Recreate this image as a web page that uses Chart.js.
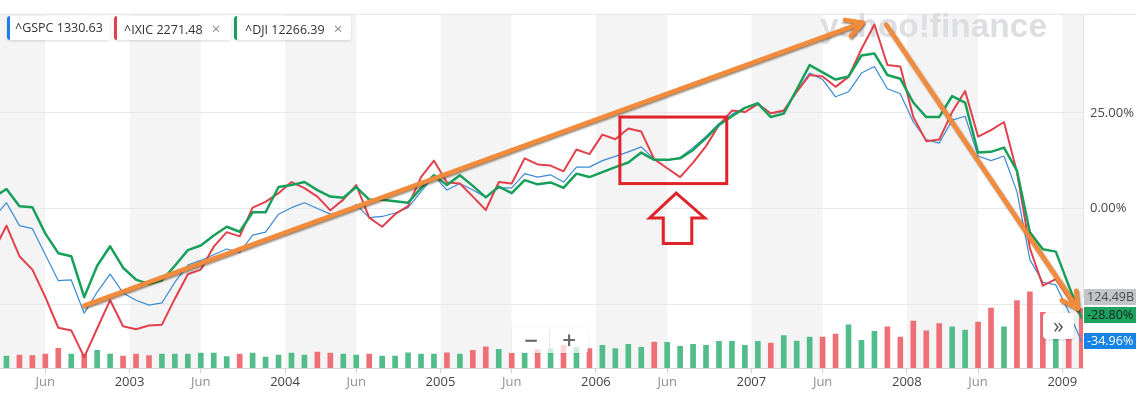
<!DOCTYPE html>
<html>
<head>
<meta charset="utf-8">
<script src="https://cdn.jsdelivr.net/npm/chart.js@4/dist/chart.umd.min.js"></script>
<style>
  html, body { margin: 0; padding: 0; background: #fff; }
  #wrap { position: relative; width: 1136px; height: 395px; font-family: 'Open Sans', sans-serif; overflow: hidden; }
  #wrap canvas { position: absolute; left: 0; top: 0; }
  .chip { position: absolute; top: 16px; height: 24px; line-height: 24px; background: #fff; border-radius: 3px;
          box-shadow: 0 1px 3px rgba(0,0,0,0.15); font-size: 12.5px; color: #333; white-space: nowrap; box-sizing: border-box; }
  .chip .bar { position: absolute; left: 0; top: 0; bottom: 0; width: 3px; border-radius: 3px 0 0 3px; }
  .chip .x { color: #8a8a8a; font-size: 15px; margin-left: 9px; }
  .badge { position: absolute; left: 1084px; width: 52px; height: 16px; line-height: 16px; font-size: 12.5px;
           padding-left: 3px; box-sizing: border-box; white-space: nowrap; overflow: hidden; }
  .zoom { position: absolute; left: 512px; top: 327px; width: 76px; height: 26px; background: rgba(255,255,255,0.72);
          border-radius: 3px; box-shadow: 0 0 2px rgba(0,0,0,0.12); color: #666; font-size: 24px; font-weight: 600; }
  .zoom span { position: absolute; top: -4px; width: 38px; text-align: center; }
  .zoom i { position: absolute; left: 37px; top: 3px; bottom: 3px; width: 1px; background: #e6e6e6; }
  .more { position: absolute; left: 1043px; top: 313px; width: 31px; height: 26px; background: #fff; border-radius: 4px;
          box-shadow: 0 1px 3px rgba(0,0,0,0.18); color: #555; font-size: 21px; line-height: 24px; text-align: center; }
</style>
</head>
<body>
<div id="wrap">
  <canvas id="stockChart"></canvas>
  <div class="chip" style="left:7px;width:103px;padding-left:8px"><span class="bar" style="background:#1f7fe0"></span>^GSPC 1330.63</div>
  <div class="chip" style="left:114px;width:117px;padding-left:10px"><span class="bar" style="background:#e2404c"></span>^IXIC 2271.48<span class="x">×</span></div>
  <div class="chip" style="left:234px;width:117px;padding-left:11px"><span class="bar" style="background:#17a05a"></span>^DJI 12266.39<span class="x">×</span></div>
  <div class="zoom"><span style="left:0">−</span><i></i><span style="left:38px">+</span></div>
  <div class="more">»</div>
  <div class="badge" style="top:289px;background:#c3c4c8;color:#4a4a4a">124.49B</div>
  <div class="badge" style="top:307px;background:#1ea35e;color:#122">-28.80%</div>
  <div class="badge" style="top:333px;background:#1683e6;color:#fff">-34.96%</div>
</div>
<script>
/* =========================
   DATI (monthly, Feb 2002 - Feb 2009)
========================= */
const months = [
  "2002-02","2002-03","2002-04","2002-05","2002-06","2002-07","2002-08","2002-09","2002-10","2002-11","2002-12",
  "2003-01","2003-02","2003-03","2003-04","2003-05","2003-06","2003-07","2003-08","2003-09","2003-10","2003-11","2003-12",
  "2004-01","2004-02","2004-03","2004-04","2004-05","2004-06","2004-07","2004-08","2004-09","2004-10","2004-11","2004-12",
  "2005-01","2005-02","2005-03","2005-04","2005-05","2005-06","2005-07","2005-08","2005-09","2005-10","2005-11","2005-12",
  "2006-01","2006-02","2006-03","2006-04","2006-05","2006-06","2006-07","2006-08","2006-09","2006-10","2006-11","2006-12",
  "2007-01","2007-02","2007-03","2007-04","2007-05","2007-06","2007-07","2007-08","2007-09","2007-10","2007-11","2007-12",
  "2008-01","2008-02","2008-03","2008-04","2008-05","2008-06","2008-07","2008-08","2008-09","2008-10","2008-11","2008-12",
  "2009-01","2009-02"
];

// % change
const gspc = [
  -2.5, 1.5, -4.5, -5.3, -12.1, -18.9, -18.7, -27.4, -21.9, -17.2, -22.1,
  -24.0, -25.3, -24.7, -19.3, -14.8, -13.6, -12.1, -10.6, -11.5, -7.0, -6.2, -1.5,
  0.2, 1.5, 0.0, -1.5, -1.1, 1.0, -2.4, -2.1, -1.2, 0.2, 4.4, 8.6,
  4.8, 6.5, 4.8, 2.9, 5.4, 5.4, 9.1, 8.2, 8.8, 6.9, 10.8, 10.8,
  12.5, 13.6, 14.8, 16.1, 12.9, 12.5, 13.3, 15.9, 18.8, 22.2, 24.6, 26.3,
  27.5, 24.8, 25.4, 30.7, 35.4, 33.7, 29.2, 30.5, 35.4, 37.1, 31.3, 30.0,
  22.6, 18.0, 17.1, 23.1, 24.1, 13.7, 12.5, 13.7, 4.4, -13.4, -19.3, -20.0,
  -27.0, -34.96
];
const ixic = [
  -11.2, -4.5, -12.5, -16.0, -23.2, -31.2, -31.9, -38.9, -31.4, -24.0, -30.8,
  -31.6, -30.6, -30.4, -23.6, -17.2, -16.0, -10.0, -6.2, -7.3, 0.2, 1.7, 4.0,
  6.9, 5.3, 3.1, -0.5, 2.3, 6.1, -2.4, -4.8, -1.5, 0.6, 8.2, 12.5,
  6.8, 6.5, 3.1, -0.4, 6.9, 6.5, 13.1, 11.5, 11.2, 9.7, 15.4, 14.2,
  19.3, 18.1, 20.9, 20.1, 12.9, 10.5, 8.2, 12.0, 16.3, 21.8, 25.6, 25.2,
  27.3, 24.9, 25.6, 30.5, 34.9, 34.5, 31.8, 34.4, 41.7, 48.1, 37.5, 37.1,
  23.9, 17.6, 18.0, 25.2, 30.7, 18.8, 20.5, 22.6, 9.5, -10.4, -20.2, -18.5,
  -23.5, -28.5
];
const dji = [
  2.9, 5.1, 0.6, 0.3, -6.6, -11.7, -12.5, -23.2, -15.0, -9.9, -15.5,
  -18.6, -19.8, -18.8, -15.0, -10.9, -9.7, -7.1, -4.8, -6.1, -1.0, -1.0, 5.6,
  6.1, 6.9, 4.8, 3.1, 2.8, 5.6, 2.3, 2.3, 1.9, 1.5, 5.3, 8.7,
  6.1, 8.7, 5.9, 2.9, 5.7, 4.0, 7.4, 6.3, 6.8, 5.4, 9.1, 8.2,
  9.5, 10.8, 12.0, 14.6, 12.7, 12.7, 13.1, 15.3, 18.4, 21.8, 24.1, 26.3,
  27.5, 23.9, 24.8, 31.1, 37.5, 35.6, 33.7, 34.5, 40.0, 40.5, 34.9, 33.9,
  27.7, 23.9, 23.9, 29.4, 27.7, 14.6, 14.8, 15.9, 9.9, -6.2, -10.7, -11.3,
  -20.2, -28.8
];

// volume (billions) + up/down
const volume = [
  null, 25.1, 27.1, 25.9, 29.2, 41.4, 29.2, 28.6, 37.3, 29.2, 25.1,
  29.2, 25.9, 29.2, 29.2, 29.2, 31.2, 31.2, 23.9, 29.2, 31.2, 23.1, 27.1,
  31.2, 27.1, 33.3, 31.2, 29.2, 27.1, 29.2, 25.1, 25.1, 32.0, 29.2, 29.2,
  32.0, 29.2, 37.3, 44.3, 39.4, 30.6, 32.0, 38.8, 40.8, 47.6, 42.9, 40.8,
  47.6, 40.8, 49.6, 43.5, 54.5, 53.7, 45.5, 49.6, 47.6, 55.7, 55.7, 47.6,
  55.7, 52.4, 68.0, 56.5, 64.7, 64.7, 71.4, 90.4, 57.8, 76.9, 86.3, 64.7,
  98.6, 78.2, 93.3, 86.3, 79.6, 96.5, 125.9, 86.3, 141.4, 159.8, 116.9, 114.3,
  114.3, 124.49
];
const volDir = [
  "G","G","R","R","R","R","G","R","G","G","R",
  "R","R","G","G","G","G","G","G","R","G","G","G",
  "G","G","R","R","G","G","R","G","G","G","G","G",
  "R","G","R","R","G","R","G","R","G","R","G","R",
  "G","G","G","G","R","G","G","G","G","G","G","G",
  "G","R","G","G","G","R","R","G","G","G","R","R",
  "R","R","R","G","G","R","R","G","R","R","R","G",
  "R","R"
];

const xTickLabels = ["Jun","2003","Jun","2004","Jun","2005","Jun","2006","Jun","2007","Jun","2008","Jun","2009"];
const yTicks = [-25, 0, 25];

/* =========================
   ANNOTAZIONI (month index, %)
========================= */
const trendArrows = [
  { from: [7, -25.4], to: [67.1, 48.6] },
  { from: [68.9, 48.1], to: [83.7, -26.2] }
];
const focusBox = [48.35, 23.9, 56.6, 6.5];
const pointer = [[52.7, 4.0], [54.9, -2.5], [53.9, -2.5], [53.9, -9.2], [51.7, -9.2], [51.7, -2.5], [50.65, -2.5]];

/* =========================
   TICK POSITIONS
========================= */
let yr = 2002;
const xTickPos = xTickLabels.map(l => {
  if (l === "Jun") return months.indexOf(yr + "-06");
  yr = +l;
  return months.indexOf(l + "-01") - 0.5;
});

const pts = arr => arr.map((v, i) => ({ x: i, y: v }));

/* =========================
   PLUGINS
========================= */
const backdrop = {
  id: "backdrop",
  beforeDraw(chart) {
    const { ctx, chartArea: a, scales: { x } } = chart;
    ctx.save();
    // half-year shading
    ctx.fillStyle = "#f4f4f4";
    for (let y = 2002; y <= 2009; y++) {
      const j = months.indexOf(y + "-01"), k = months.indexOf(y + "-06");
      const x0 = j < 0 ? a.left : x.getPixelForValue(j - 0.5);
      const x1 = k < 0 ? a.right : x.getPixelForValue(k);
      if (x1 > x0) ctx.fillRect(x0, a.top, x1 - x0, a.bottom - a.top);
    }
    // frame lines
    ctx.strokeStyle = "#e3e3e3";
    ctx.lineWidth = 1;
    ctx.beginPath();
    ctx.moveTo(0, a.top - 0.5); ctx.lineTo(chart.width, a.top - 0.5);
    ctx.moveTo(a.right + 0.5, a.top); ctx.lineTo(a.right + 0.5, a.bottom - 70);
    ctx.stroke();
    // watermark
    const txt = "yahoo!finance";
    ctx.font = "bold 30px 'Liberation Sans', Arial, sans-serif";
    const size = 30 * 227 / ctx.measureText(txt).width;
    ctx.font = "bold " + size.toFixed(1) + "px 'Liberation Sans', Arial, sans-serif";
    ctx.fillStyle = "#dddee2";
    ctx.textBaseline = "alphabetic";
    ctx.fillText(txt, 820, 37);
    ctx.restore();
  }
};

const annotate = {
  id: "annotate",
  afterDatasetsDraw(chart) {
    const { ctx, scales: { x, y } } = chart;
    const px = i => x.getPixelForValue(i), py = v => y.getPixelForValue(v);
    ctx.save();
    // red box + up arrow
    ctx.strokeStyle = "#e0232b";
    ctx.lineWidth = 3;
    ctx.lineJoin = "miter";
    const [bx0, by0, bx1, by1] = focusBox;
    ctx.strokeRect(px(bx0), py(by0), px(bx1) - px(bx0), py(by1) - py(by0));
    ctx.beginPath();
    pointer.forEach(([i, v], n) => n ? ctx.lineTo(px(i), py(v)) : ctx.moveTo(px(i), py(v)));
    ctx.closePath();
    ctx.stroke();
    // orange trend arrows
    ctx.shadowColor = "rgba(70,35,0,0.55)";
    ctx.shadowBlur = 2;
    ctx.shadowOffsetX = 1;
    ctx.shadowOffsetY = 1.5;
    ctx.strokeStyle = "#f28b3c";
    ctx.lineWidth = 4.5;
    ctx.lineCap = "round";
    ctx.lineJoin = "round";
    trendArrows.forEach(t => {
      const x0 = px(t.from[0]), y0 = py(t.from[1]), x1 = px(t.to[0]), y1 = py(t.to[1]);
      const ang = Math.atan2(y1 - y0, x1 - x0), L = 18;
      ctx.beginPath();
      ctx.moveTo(x0, y0); ctx.lineTo(x1, y1);
      [-0.5, 0.5].forEach(d => {
        ctx.moveTo(x1, y1);
        ctx.lineTo(x1 - L * Math.cos(ang + d), y1 - L * Math.sin(ang + d));
      });
      ctx.stroke();
    });
    ctx.restore();
  }
};

/* =========================
   GRAFICO
========================= */
Chart.defaults.font.family = "'Open Sans', sans-serif";

new Chart(document.getElementById("stockChart"), {
  type: "line",
  data: {
    datasets: [
      { label: "^DJI", data: pts(dji), borderColor: "#17a05a", borderWidth: 2.5, order: 1 },
      { label: "^IXIC", data: pts(ixic), borderColor: "#e2404c", borderWidth: 2, order: 2 },
      { label: "^GSPC", data: pts(gspc), borderColor: "#3b8ad6", borderWidth: 1.2, order: 3 },
      {
        type: "bar",
        label: "Volume",
        data: pts(volume),
        yAxisID: "yv",
        backgroundColor: volDir.map(d => d === "G" ? "#52bd8a" : "#ef6f76"),
        barThickness: 5,
        order: 10
      }
    ]
  },
  options: {
    responsive: true,
    maintainAspectRatio: false,
    animation: false,
    devicePixelRatio: 1,
    layout: { padding: { top: 5, left: 0, right: 0, bottom: 0 } },
    elements: { point: { radius: 0 }, line: { tension: 0, fill: false, borderJoinStyle: "round" } },
    plugins: { legend: { display: false }, tooltip: { enabled: false } },
    scales: {
      x: {
        type: "linear",
        min: 0.5,
        max: 84.1,
        offset: false,
        afterBuildTicks: s => { s.ticks = xTickPos.map(v => ({ value: v })); },
        afterFit: s => { s.height = 27; s.paddingLeft = 0; s.paddingRight = 0; },
        grid: { offset: false, drawOnChartArea: false, drawTicks: true, tickLength: 5, color: "#cfcfcf" },
        border: { display: true, color: "#d8d8d8" },
        ticks: {
          autoSkip: false,
          maxRotation: 0,
          padding: 1,
          font: { size: 13 },
          callback: (v, i) => xTickLabels[i],
          color: c => c.tick && c.tick.label === "Jun" ? "#8f8f8f" : "#444"
        }
      },
      y: {
        position: "right",
        min: -41.73,
        max: 50.64,
        afterBuildTicks: s => { s.ticks = yTicks.map(v => ({ value: v })); },
        afterFit: s => { s.width = 53; },
        grid: { color: "#e8e8e8", drawTicks: false },
        border: { display: false },
        ticks: {
          padding: 7,
          color: "#4a4a4a",
          font: { size: 13 },
          callback: v => v === -25 ? "" : v.toFixed(2) + "%"
        }
      },
      yv: {
        display: false,
        min: 0,
        max: 740.8
      }
    }
  },
  plugins: [backdrop, annotate]
});
</script>
</body>
</html>
